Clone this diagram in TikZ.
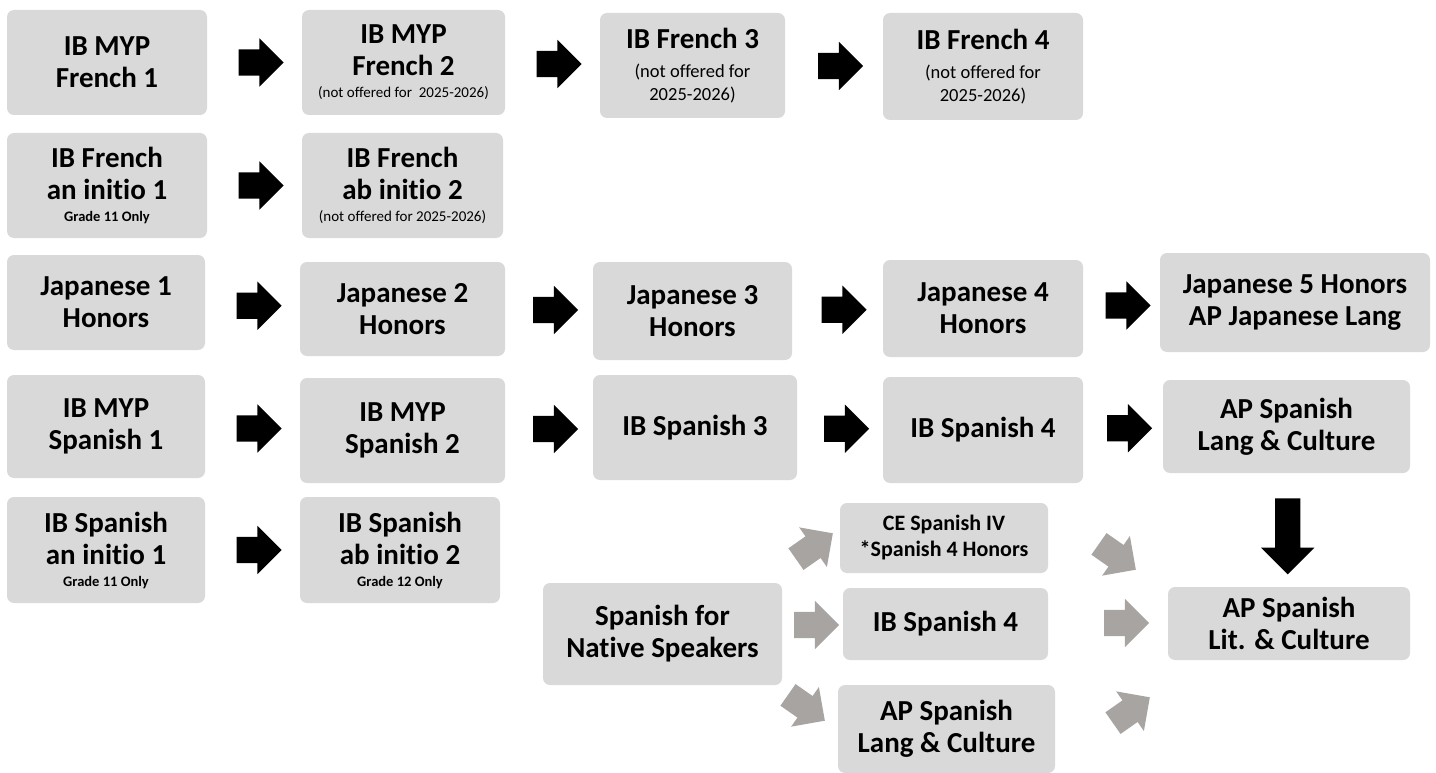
\documentclass[tikz,border=0pt]{standalone}
\usepackage{fontspec}
\setmainfont{Carlito}[Ligatures=NoCommon]
\usepackage{tikz}
\usetikzlibrary{shapes.arrows,calc}

\definecolor{boxgray}{RGB}{217,217,217}
\definecolor{arrgray}{RGB}{168,164,162}
\newcommand{\smalltxt}[1]{{\fontsize{18.5}{20}\mdseries\selectfont #1}}
\newcommand{\tinytxt}[1]{{\fontsize{15}{16}\mdseries\selectfont #1}}
\newcommand{\gradetxt}[1]{{\fontsize{14.5}{16}\selectfont #1}}

\begin{document}
\begin{tikzpicture}[x=1pt,y=-1pt]
\tikzstyle{every node}=[font=\fontsize{29}{32}\selectfont\bfseries]
\tikzstyle{course}=[fill=boxgray, rounded corners=7pt, align=center, inner sep=0pt]
\tikzstyle{blk}=[single arrow, fill=black, inner sep=13pt, minimum height=45pt, single arrow head extend=11pt]
\tikzstyle{gry}=[blk, fill=arrgray]

\useasboundingbox (0,0) rectangle (1436,773);

%French
\node[course, minimum width=200pt, minimum height=105pt] (fra) at (107,62.5) {IB MYP\\French 1};
\node[course, minimum width=203pt, minimum height=105pt] (frb) at (403.5,62.5) {IB MYP\\French 2\\[-10pt]\tinytxt{(not offered for~~2025-2026)}};
\node[course, minimum width=185pt, minimum height=105pt] (frc) at (692.5,65.5) {IB French 3\\[-3pt]\smalltxt{(not offered for}\\[-9pt]\smalltxt{2025-2026)}};
\node[course, minimum width=200pt, minimum height=107pt] (frd) at (983,66.5) {IB French 4\\[-3pt]\smalltxt{(not offered for}\\[-9pt]\smalltxt{2025-2026)}};
\node[course, minimum width=200pt, minimum height=105pt] (abfa) at (107,185.5) {IB French\\an initio 1\\[-10pt]\gradetxt{Grade 11 Only}};
\node[course, minimum width=201pt, minimum height=105pt] (abfb) at (402.5,185.5) {IB French\\ab initio 2\\[-10pt]\tinytxt{(not offered for 2025-2026)}};

%Japanese
\node[course, minimum width=198pt, minimum height=95pt] (jpa) at (106,302.5) {Japanese 1\\Honors};
\node[course, minimum width=205pt, minimum height=94pt] (jpb) at (402.5,309) {Japanese 2\\Honors};
\node[course, minimum width=199pt, minimum height=98pt] (jpc) at (692.5,311) {Japanese 3\\Honors};
\node[course, minimum width=200pt, minimum height=97pt] (jpd) at (983,308.5) {Japanese 4\\Honors};
\node[course, minimum width=270pt, minimum height=99pt] (jpe) at (1295,302.5) {Japanese 5 Honors\\AP Japanese Lang};

%Spanish
\node[course, minimum width=198pt, minimum height=103pt] (spa) at (106,426.5) {IB MYP\\Spanish 1};
\node[course, minimum width=205pt, minimum height=105pt] (spb) at (402.5,430.5) {IB MYP\\Spanish 2};
\node[course, minimum width=204pt, minimum height=105pt] (spc) at (695,427.5) {IB Spanish 3};
\node[course, minimum width=200pt, minimum height=106pt] (spd) at (983,430) {IB Spanish 4};
\node[course, minimum width=247pt, minimum height=93pt] (spe) at (1286.5,426.5) {AP Spanish\\Lang \& Culture};
\node[course, minimum width=242pt, minimum height=73pt] (lit) at (1289,623.5) {AP Spanish\\Lit. \& Culture};
\node[course, minimum width=198pt, minimum height=106pt] (absa) at (106,550) {IB Spanish\\an initio 1\\[-10pt]\gradetxt{Grade 11 Only}};
\node[course, minimum width=200pt, minimum height=106pt] (absb) at (400,550) {IB Spanish\\ab initio 2\\[-10pt]\gradetxt{Grade 12 Only}};

%Native speakers
\node[course, minimum width=239pt, minimum height=102pt] (nat) at (662.5,634) {Spanish for\\Native Speakers};
\node[course, minimum width=208pt, minimum height=70pt, font=\fontsize{22}{26}\selectfont\bfseries] (ce) at (944,538) {CE Spanish IV\\*Spanish 4 Honors};
\node[course, minimum width=205pt, minimum height=72pt] (ibf) at (945.5,624) {IB Spanish 4};
\node[course, minimum width=217pt, minimum height=88pt] (aps) at (946.5,729) {AP Spanish\\Lang \& Culture};

%Pfeile
\foreach \a/\b in {fra/frb,frb/frc,frc/frd,abfa/abfb,jpa/jpb,jpb/jpc,jpc/jpd,jpd/jpe,spa/spb,spb/spc,spc/spd,spd/spe,absa/absb}
  \node[blk] (\a\b) at ($(\a.east)!0.5!(\b.west)$) {};
\node[blk, rotate=-90, minimum height=76pt, inner sep=12.5pt, single arrow head extend=14pt] (spelit) at ($(spe.south)!0.5!(lit.north)$) {};

\node[gry, rotate=35] (natce) at (809,550) {};
\node[gry] (natibf) at (810,625) {};
\node[gry, rotate=-35] (nataps) at (801,704) {};
\node[gry, rotate=-35] (celit) at (1112,553) {};
\node[gry] (ibflit) at (1120,623) {};
\node[gry, rotate=35] (apslit) at (1126,714) {};

\end{tikzpicture}
\end{document}
